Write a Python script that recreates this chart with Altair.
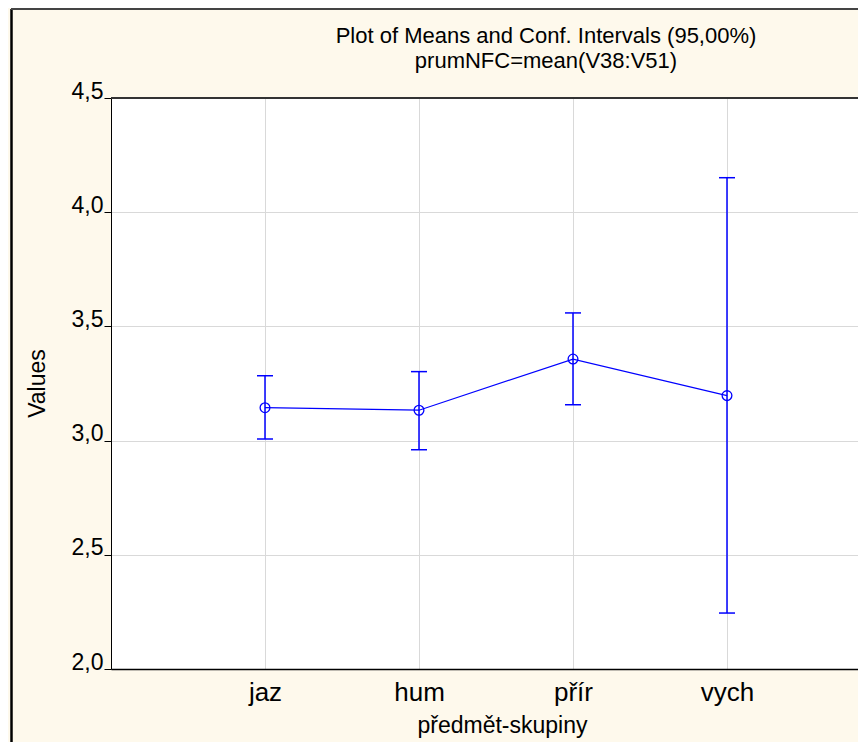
import altair as alt
import pandas as pd

# ---- data ----
categories = ["jaz", "hum", "přír", "vych"]
positions = [1, 2, 3, 4]
means = [3.144, 3.133, 3.357, 3.197]
ci_low = [3.007, 2.960, 3.157, 2.245]
ci_high = [3.284, 3.302, 3.559, 4.151]
y_ticks = [2.0, 2.5, 3.0, 3.5, 4.0, 4.5]

title_lines = ["Plot of Means and Conf. Intervals (95,00%)", "prumNFC=mean(V38:V51)"]
x_title = "předmět-skupiny"
y_title = "Values"

df = pd.DataFrame({"idx": positions, "skupina": categories, "mean": means,
                   "lo": ci_low, "hi": ci_high})

PLOT_W, PLOT_H = 747, 571
STEP = 154
PAD = {"left": 103, "top": 90, "right": 0, "bottom": 73}
FONT = "'Liberation Sans', Arial, sans-serif"
BLUE = "#0000FF"
CREAM = "#FEF9EC"

label_expr = "[" + ",".join("'%s'" % c for c in categories) + "][datum.value - 1]"

x_axis = alt.Axis(values=positions, labelExpr=label_expr, grid=True, gridColor="#D9D9D9",
                  domainColor="black", domainWidth=1.5, ticks=False,
                  labelFont=FONT, labelFontSize=26, labelColor="black",
                  labelBaseline="alphabetic", labelPadding=31, labelAlign="center",
                  title=x_title, titleFont=FONT, titleFontSize=23, titleFontWeight="normal",
                  titleColor="black", titleX=391, titleY=63, titleBaseline="alphabetic",
                  titleAlign="center")
y_axis = alt.Axis(values=y_ticks, labelExpr="replace(format(datum.value, '.1f'), '.', ',')",
                  grid=True, gridColor="#D9D9D9", domainColor="black", domainWidth=1,
                  tickSize=7, tickColor="black", labelFont=FONT, labelFontSize=23,
                  labelColor="black", labelBaseline="alphabetic", labelPadding=1,
                  labelAlign="right",
                  title=y_title, titleFont=FONT, titleFontSize=23, titleFontWeight="normal",
                  titleColor="black", titleAngle=-90, titleX=-74, titleY=285,
                  titleBaseline="middle", titleAlign="center")

x_scale = alt.Scale(domain=[0, PLOT_W / STEP], nice=False, zero=False)
y_scale = alt.Scale(domain=[2.0, 4.5], nice=False, zero=False)

base = alt.Chart(df)
X = alt.X("idx:Q", scale=x_scale, axis=x_axis)

line = base.mark_line(color=BLUE, strokeWidth=1.2).encode(
    x=X, y=alt.Y("mean:Q", scale=y_scale, axis=y_axis))
points = base.mark_point(shape="circle", filled=False, color=BLUE, size=95,
                         strokeWidth=1.3, opacity=1).encode(
    x=X, y=alt.Y("mean:Q", scale=y_scale, axis=y_axis))
bars = base.mark_rule(color=BLUE, strokeWidth=1.5).encode(
    x=X, y=alt.Y("lo:Q", scale=y_scale, axis=y_axis), y2="hi:Q")
cap_hi = base.mark_tick(orient="horizontal", color=BLUE, size=16, thickness=1.5,
                        opacity=1).encode(
    x=X, y=alt.Y("hi:Q", scale=y_scale, axis=y_axis))
cap_lo = base.mark_tick(orient="horizontal", color=BLUE, size=16, thickness=1.5,
                        opacity=1).encode(
    x=X, y=alt.Y("lo:Q", scale=y_scale, axis=y_axis))

# decorative frame lines
one = alt.Chart(pd.DataFrame({"k": [0]}))
top_border = one.mark_rule(color="#333333", strokeWidth=2).encode(
    x=alt.value(0), x2=alt.value(PLOT_W), y=alt.value(0))
frame_left = one.mark_rule(color="black", strokeWidth=2.5).encode(
    x=alt.value(-99.5), y=alt.value(-89), y2=alt.value(PLOT_H + PAD["bottom"]))
frame_top = one.mark_rule(color="#444444", strokeWidth=2).encode(
    x=alt.value(-100), x2=alt.value(PLOT_W), y=alt.value(-89))

# chart title (two lines)
title1 = one.mark_text(font=FONT, fontSize=22, color="black", align="center",
                       baseline="alphabetic").encode(
    x=alt.value(435), y=alt.value(-55), text=alt.value(title_lines[0]))
title2 = one.mark_text(font=FONT, fontSize=22, color="black", align="center",
                       baseline="alphabetic").encode(
    x=alt.value(435), y=alt.value(-30), text=alt.value(title_lines[1]))

chart = alt.layer(frame_left, frame_top, line, bars, cap_hi, cap_lo, points, top_border,
                  title1, title2).properties(
    width=PLOT_W, height=PLOT_H,
    padding=PAD,
    autosize=alt.AutoSizeParams(type="none"),
    background=CREAM,
).configure_view(fill="white", stroke=None)

chart.save("out.html", embed_options={"renderer": "svg", "actions": False})
